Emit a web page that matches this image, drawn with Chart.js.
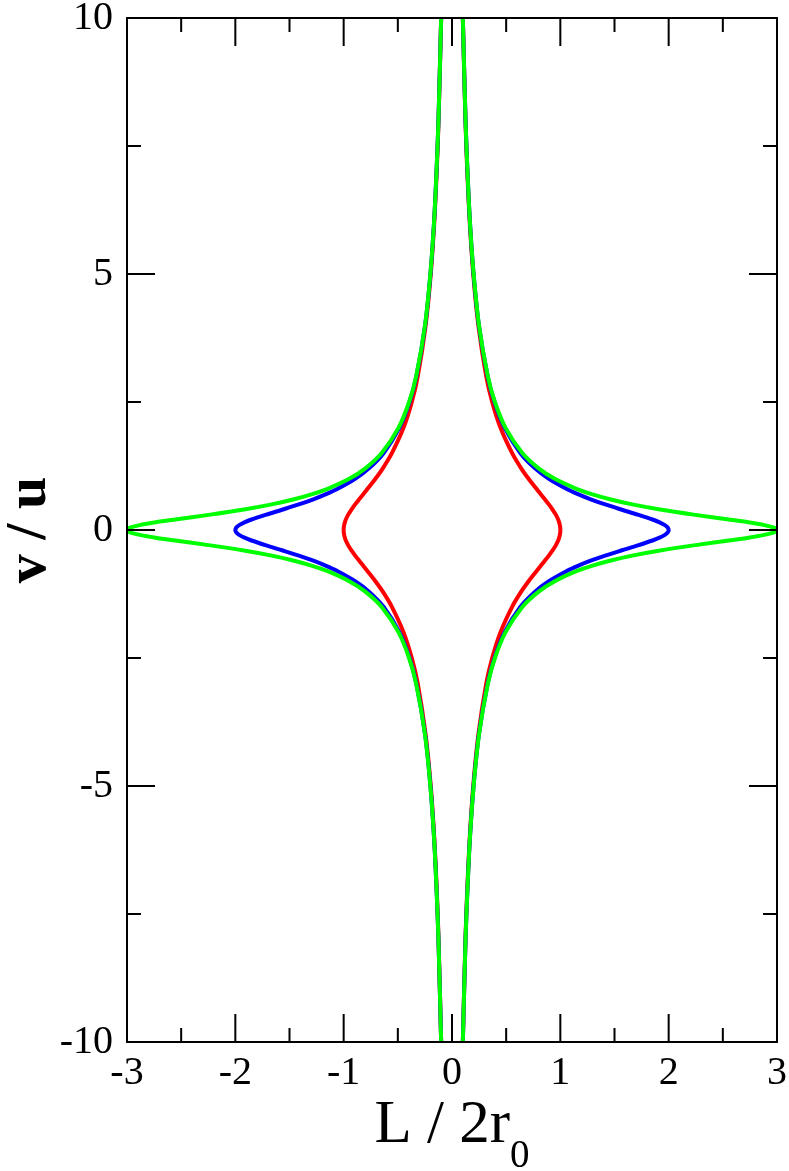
<!DOCTYPE html>
<html>
<head>
<meta charset="utf-8">
<script src="https://cdn.jsdelivr.net/npm/chart.js@4.4.1/dist/chart.umd.min.js"></script>
<style>
  html, body { margin: 0; padding: 0; background: #fff; }
  #wrap { width: 789px; height: 1171px; }
</style>
</head>
<body>
<div id="wrap"><canvas id="grafico" width="789" height="1171"></canvas></div>
<script>
// v/u levels (upper half, curves are mirrored in v/u and in L/2r0)
const Y_LEVELS = [0, 0.02, 0.05, 0.1, 0.15, 0.2, 0.3, 0.4, 0.5, 0.6, 0.7, 0.8, 1.0, 1.2, 1.5, 2, 2.5, 3, 4, 5, 6, 7, 8, 10];
// L/2r0 read at each level
const X_RED   = [1.00, 1.00, 0.999, 0.995, 0.989, 0.981, 0.958, 0.928, 0.894, 0.857, 0.819, 0.781, 0.707, 0.640, 0.555, 0.447, 0.371, 0.316, 0.243, 0.196, 0.164, 0.141, 0.124, 0.100];
const X_BLUE  = [2.00, 1.998, 1.990, 1.961, 1.916, 1.857, 1.715, 1.562, 1.414, 1.280, 1.162, 1.060, 0.894, 0.769, 0.632, 0.485, 0.392, 0.329, 0.248, 0.199, 0.166, 0.143, 0.125, 0.100];
const X_GREEN = [3.00, 2.995, 2.967, 2.873, 2.736, 2.572, 2.230, 1.921, 1.664, 1.457, 1.290, 1.154, 0.949, 0.803, 0.651, 0.493, 0.396, 0.331, 0.249, 0.200, 0.166, 0.143, 0.125, 0.100];

// ticks
const X_MAJOR = [-3, -2, -1, 0, 1, 2, 3];
const X_MINOR = [-2.5, -1.5, -0.5, 0.5, 1.5, 2.5];
const Y_MAJOR = [-10, -5, 0, 5, 10];
const Y_MINOR = [-7.5, -2.5, 2.5, 7.5];

const FONT = "'Liberation Serif', 'Times New Roman', serif";

// one branch: from top (v/u = 10) through the nose down to v/u = -10
function ramo(xs, segno) {
  const punti = [];
  for (let i = Y_LEVELS.length - 1; i >= 0; i--) punti.push({ x: segno * xs[i], y: Y_LEVELS[i] });
  for (let i = 1; i < Y_LEVELS.length; i++) punti.push({ x: segno * xs[i], y: -Y_LEVELS[i] });
  return punti;
}

function serie(xs, colore) {
  return [1, -1].map(s => ({
    data: ramo(xs, s),
    borderColor: colore,
    borderWidth: 4,
    showLine: true,
    pointRadius: 0,
    tension: 0.3,
    fill: false
  }));
}

// first dataset is drawn on top
const datasets = [
  ...serie(X_GREEN, "#00ff00"),
  ...serie(X_BLUE, "#0000ff"),
  ...serie(X_RED, "#ff0000")
];

// frame, inward ticks on all sides, axis titles
const cornice = {
  id: "cornice",
  afterDraw(chart) {
    const ctx = chart.ctx;
    const a = chart.chartArea;
    const sx = chart.scales.x, sy = chart.scales.y;
    ctx.save();
    ctx.strokeStyle = "#000";
    ctx.lineWidth = 2;
    ctx.strokeRect(a.left, a.top, a.right - a.left, a.bottom - a.top);

    ctx.beginPath();
    const tx = (v, len) => {
      const p = sx.getPixelForValue(v);
      ctx.moveTo(p, a.bottom); ctx.lineTo(p, a.bottom - len);
      ctx.moveTo(p, a.top); ctx.lineTo(p, a.top + len);
    };
    const ty = (v, len) => {
      const p = sy.getPixelForValue(v);
      ctx.moveTo(a.left, p); ctx.lineTo(a.left + len, p);
      ctx.moveTo(a.right, p); ctx.lineTo(a.right - len, p);
    };
    X_MAJOR.forEach(v => tx(v, 28));
    X_MINOR.forEach(v => tx(v, 14));
    Y_MAJOR.forEach(v => ty(v, 28));
    Y_MINOR.forEach(v => ty(v, 14));
    ctx.stroke();

    // x title with subscript
    ctx.fillStyle = "#000";
    ctx.textBaseline = "alphabetic";
    ctx.textAlign = "left";
    ctx.font = "61px " + FONT;
    const testo = "L / 2r";
    const w1 = ctx.measureText(testo).width;
    ctx.font = "39px " + FONT;
    const w2 = ctx.measureText("0").width;
    const x0 = (a.left + a.right) / 2 - (w1 + w2) / 2;
    ctx.font = "61px " + FONT;
    ctx.fillText(testo, x0, 1142);
    ctx.font = "39px " + FONT;
    ctx.fillText("0", x0 + w1, 1167);

    // y title
    ctx.translate(45, (a.top + a.bottom) / 2);
    ctx.rotate(-Math.PI / 2);
    ctx.textAlign = "center";
    ctx.font = "bold 58px " + FONT;
    ctx.fillText("v / u", 0, 0);
    ctx.restore();
  }
};

new Chart(document.getElementById("grafico"), {
  type: "scatter",
  data: { datasets: datasets },
  options: {
    responsive: false,
    animation: false,
    layout: { padding: { top: 18, right: 12, left: 0, bottom: 0 } },
    plugins: { legend: { display: false }, tooltip: { enabled: false } },
    scales: {
      x: {
        type: "linear",
        min: -3, max: 3,
        afterBuildTicks(s) { s.ticks = X_MAJOR.map(v => ({ value: v })); },
        afterFit(s) { s.height = 129; s.paddingLeft = 0; s.paddingRight = 0; },
        grid: { display: false, drawTicks: false },
        border: { display: false },
        ticks: { padding: 7, color: "#000", font: { family: FONT, size: 40 }, maxRotation: 0 }
      },
      y: {
        type: "linear",
        min: -10, max: 10,
        afterBuildTicks(s) { s.ticks = Y_MAJOR.map(v => ({ value: v })); },
        afterFit(s) { s.width = 127; s.paddingTop = 0; s.paddingBottom = 0; },
        grid: { display: false, drawTicks: false },
        border: { display: false },
        ticks: { padding: 14, color: "#000", font: { family: FONT, size: 40 } }
      }
    }
  },
  plugins: [cornice]
});
</script>
</body>
</html>
